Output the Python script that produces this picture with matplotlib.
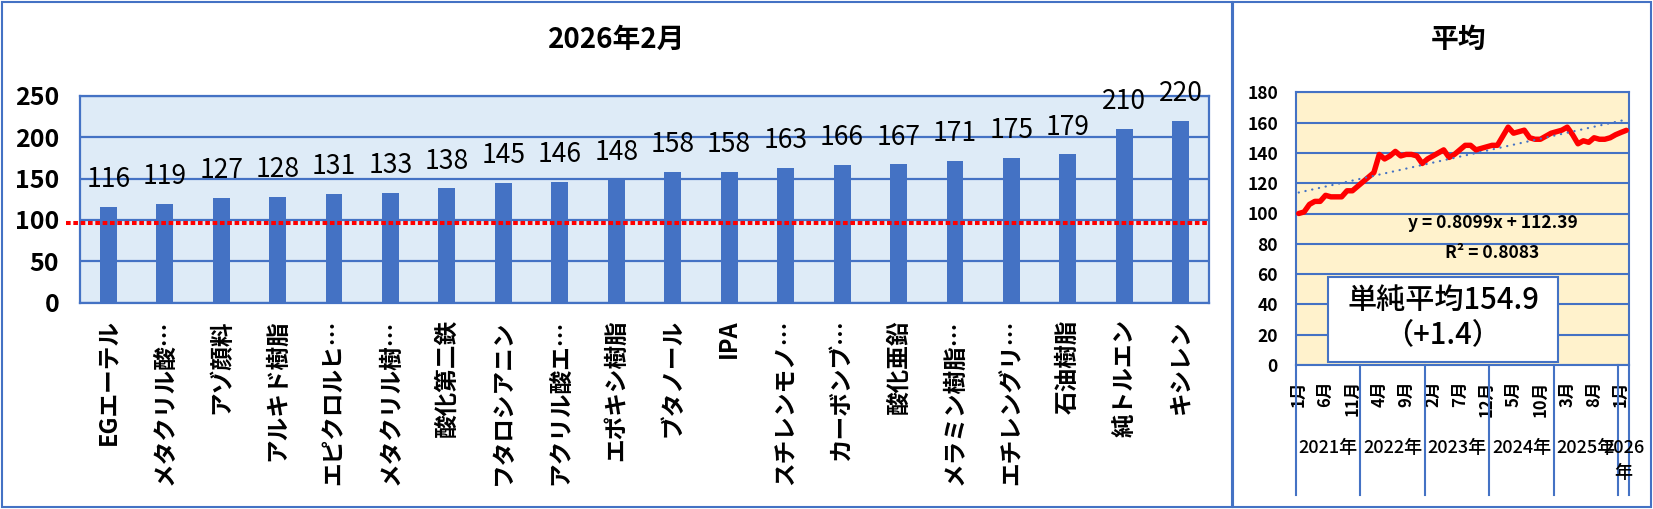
import numpy as np
import matplotlib
matplotlib.use('Agg')
import matplotlib.pyplot as plt
import matplotlib.transforms as mtransforms
from matplotlib import font_manager
from matplotlib.patches import Rectangle

plt.rcParams['font.family'] = ['Noto Sans CJK JP', 'DejaVu Sans']
_names = {f.name for f in font_manager.fontManager.ttflist}
NUM_FONT = 'Liberation Sans Narrow' if 'Liberation Sans Narrow' in _names else 'Noto Sans CJK JP'

BLUE = '#4472C4'
W, H = 1653, 509

# 左: 2026年2月 品目別
items = ['EGエーテル', 'メタクリル酸…', 'アゾ顔料', 'アルキド樹脂', 'エピクロルヒ…',
         'メタクリル樹…', '酸化第二鉄', 'フタロシアニン', 'アクリル酸エ…', 'エポキシ樹脂',
         'ブタノール', 'IPA', 'スチレンモノ…', 'カーボンブ…', '酸化亜鉛',
         'メラミン樹脂…', 'エチレングリ…', '石油樹脂', '純トルエン', 'キシレン']
values = [116, 119, 127, 128, 131, 133, 138, 145, 146, 148,
          158, 158, 163, 166, 167, 171, 175, 179, 210, 220]
base_line = 96

# 右: 平均 (2021年1月〜2026年2月)
avg_series = [100, 101, 106, 108, 108, 112, 111, 111, 111, 115, 115, 118,
              121, 124, 127, 139, 136, 138, 141, 138, 139, 139, 138, 133,
              136, 138, 140, 142, 137, 139, 142, 145, 145, 142, 143, 144,
              145, 145, 151, 157, 153, 154, 155, 150, 149, 149, 151, 153,
              154, 155, 157, 152, 146, 148, 147, 150, 149, 149, 150, 152,
              153.5, 154.9]
years = ['2021年', '2022年', '2023年', '2024年', '2025年', '2026\n年']
months_per_year = [12, 12, 12, 12, 12, 2]
month_ticks = ['1月', '6月', '11月', '4月', '9月', '2月', '7月', '12月',
               '5月', '10月', '3月', '8月', '1月']
eq_text = 'y = 0.8099x + 112.39'
r2_text = 'R² = 0.8083'
avg_text = '単純平均154.9'
diff_text = '（+1.4）'

fig = plt.figure(figsize=(W / 100, H / 100), dpi=100)

# パネル枠
fig.add_artist(Rectangle((2 / W, 2 / H), 1230 / W, 505 / H, transform=fig.transFigure,
                         fill=False, ec=BLUE, lw=1.5))
fig.add_artist(Rectangle((1233 / W, 2 / H), 418 / W, 505 / H, transform=fig.transFigure,
                         fill=False, ec=BLUE, lw=1.5))

# ---- 左の棒グラフ ----
ax1 = fig.add_axes([80 / W, 1 - 302.7 / H, 1129 / W, 207 / H])
ax1.set_facecolor('#DEEBF7')
x = np.arange(len(values))
ax1.bar(x, values, width=0.3, color=BLUE, zorder=3)
ax1.set_xlim(-0.5, len(values) - 0.5)
ax1.set_ylim(0, 250)
ax1.set_yticks(range(0, 251, 50))
ax1.yaxis.grid(True, color=BLUE, lw=1.6)
ax1.set_axisbelow(True)
for s in ax1.spines.values():
    s.set_color(BLUE)
    s.set_linewidth(1.6)
ax1.set_xticks(x, items, rotation=90, fontsize=17, fontweight='bold')
ax1.tick_params(axis='x', length=0, pad=12)
ax1.tick_params(axis='y', length=0, pad=15, labelsize=18)
for lab in ax1.get_yticklabels():
    lab.set_fontweight('bold')
ax1.axhline(base_line, xmin=-0.0124, xmax=1, color='red', lw=2.9,
            ls=(0, (1.15, 0.67)), clip_on=False, zorder=4)
for xi, v in zip(x, values):
    ax1.annotate(str(v), (xi, v), xytext=(0, 10), textcoords='offset points',
                 ha='center', va='bottom', fontsize=19, family=[NUM_FONT, 'DejaVu Sans'])
fig.text(617 / W, 1 - 40 / H, '2026年2月', ha='center', va='center',
         fontsize=20, fontweight='bold')

# ---- 右の折れ線 ----
ax2 = fig.add_axes([1296 / W, 1 - 365 / H, 333 / W, 272.7 / H])
ax2.set_facecolor('#FFF2CC')
t = np.arange(len(avg_series))
ax2.plot(t, avg_series, color='red', lw=3.9, solid_joinstyle='round',
         solid_capstyle='round', zorder=3)
coef = np.polyfit(t + 1, avg_series, 1)
ax2.plot(t, np.polyval(coef, t + 1), color=BLUE, lw=1.6, ls=(0, (0.1, 3.0)),
         dash_capstyle='round', zorder=4)
ax2.set_xlim(-0.5, len(avg_series) - 0.5)
ax2.set_ylim(0, 180)
ax2.set_yticks(range(0, 181, 20))
ax2.yaxis.grid(True, color=BLUE, lw=1.5)
ax2.set_axisbelow(True)
for s in ax2.spines.values():
    s.set_color(BLUE)
    s.set_linewidth(1.5)
ax2.tick_params(axis='y', length=0, pad=13, labelsize=12.5)
for lab in ax2.get_yticklabels():
    lab.set_fontweight('bold')
ax2.set_xticks(t[::5], month_ticks, rotation=90, fontsize=12, fontweight='bold')
ax2.tick_params(axis='x', length=0, pad=11)

trans = mtransforms.blended_transform_factory(ax2.transData, ax2.transAxes)
bounds = np.cumsum([0] + months_per_year) - 0.5
for b in bounds:
    ax2.plot([b, b], [0, -0.477], transform=trans, color=BLUE, lw=1.5, clip_on=False)
centers = (bounds[:-1] + bounds[1:]) / 2
for c, y in zip(centers, years):
    ax2.text(c, -0.27, y, transform=trans, ha='center', va='top', fontsize=13,
             fontweight='medium', linespacing=1.5)

ax2.text(0.592, 0.522, eq_text, transform=ax2.transAxes, ha='center', va='center',
         fontsize=12.5, fontweight='bold')
ax2.text(0.59, 0.412, r2_text, transform=ax2.transAxes, ha='center', va='center',
         fontsize=12.5, fontweight='bold')

fig.add_artist(Rectangle((1328 / W, 1 - 361.7 / H), 230 / W, 85 / H, transform=fig.transFigure,
                         fc='white', ec=BLUE, lw=1.5, zorder=5))
fig.text(1443 / W, 1 - 300.7 / H, avg_text, ha='center', va='center', fontsize=21,
         fontweight='medium', zorder=6)
fig.text(1443 / W, 1 - 335 / H, diff_text, ha='center', va='center', fontsize=21,
         fontweight='medium', zorder=6)
fig.text(1458 / W, 1 - 40 / H, '平均', ha='center', va='center', fontsize=20, fontweight='bold')

fig.savefig('out.png', dpi=100)
